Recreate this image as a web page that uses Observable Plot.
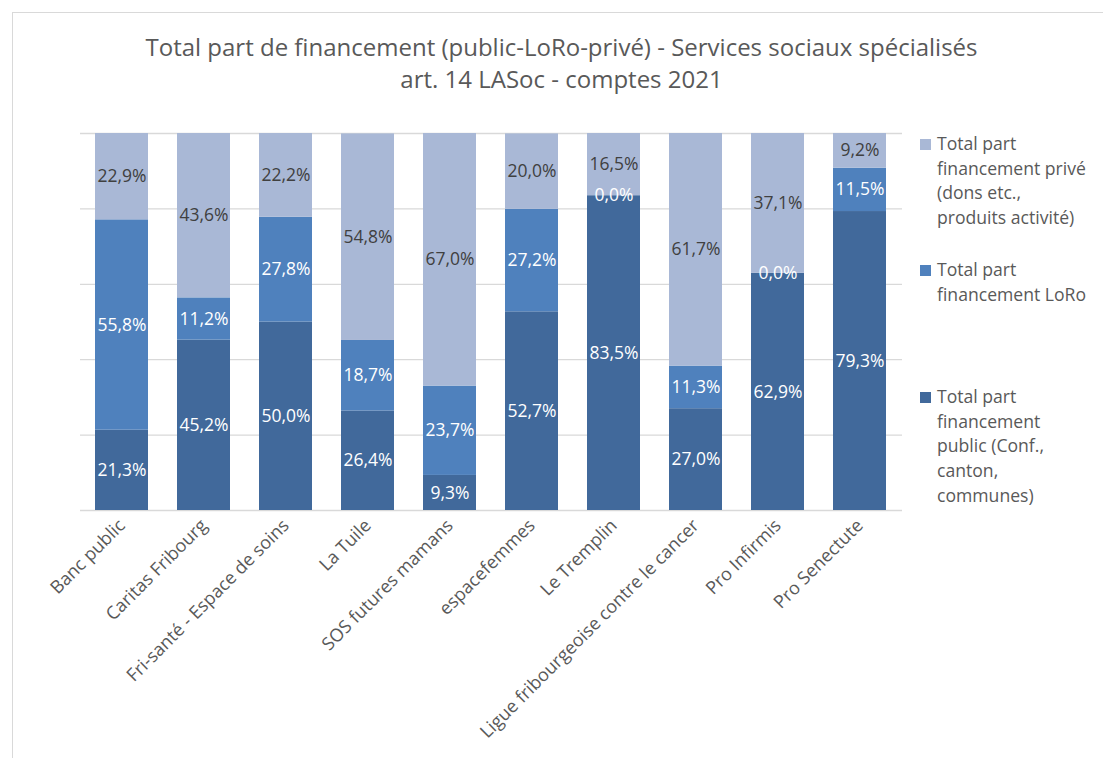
<!DOCTYPE html>
<html>
<head>
<meta charset="utf-8">
<script src="https://cdn.jsdelivr.net/npm/d3@7"></script>
<script src="https://cdn.jsdelivr.net/npm/@observablehq/plot@0.6"></script>
<style>
  html, body { margin: 0; padding: 0; background: #fff; }
  #wrap { position: relative; width: 1103px; height: 758px; overflow: hidden; font-family: "Open Sans", "Noto Sans", sans-serif; }
  #frame { position: absolute; left: 12px; top: 12px; width: 1200px; height: 800px; border-top: 1px solid #d9d9d9; border-left: 1px solid #d9d9d9; }
  #title { position: absolute; left: 0; top: 0; width: 1103px; height: 100px; text-align: center; color: #595959; font-size: 24px; line-height: 32px; padding-top: 31px; box-sizing: border-box; margin-left: 10px; }
  #chart { position: absolute; left: 0; top: 100px; }
  #legend { position: absolute; left: 918px; top: 131px; color: #595959; font-size: 17.6px; line-height: 24.7px; }
  .item { position: absolute; left: 0; width: 185px; }
  .sw { position: absolute; left: 2px; top: 8px; width: 11px; height: 11px; }
  .lt { position: absolute; left: 19px; top: 0; white-space: nowrap; }
</style>
</head>
<body>
<div id="wrap">
  <div id="frame"></div>
  <div id="title">Total part de financement (public-LoRo-privé) - Services sociaux spécialisés<br>art. 14 LASoc - comptes 2021</div>
  <div id="chart"></div>
  <div id="legend"></div>
</div>
<script>
const categories = ["Banc public", "Caritas Fribourg", "Fri-santé - Espace de soins", "La Tuile", "SOS futures mamans", "espacefemmes", "Le Tremplin", "Ligue fribourgeoise contre le cancer", "Pro Infirmis", "Pro Senectute"];
const seriesNames = ["Total part financement public (Conf., canton, communes)", "Total part financement LoRo", "Total part financement privé (dons etc., produits activité)"];
const publicValues = [21.3, 45.2, 50.0, 26.4, 9.3, 52.7, 83.5, 27.0, 62.9, 79.3];
const loroValues   = [55.8, 11.2, 27.8, 18.7, 23.7, 27.2, 0.0, 11.3, 0.0, 11.5];
const priveValues  = [22.9, 43.6, 22.2, 54.8, 67.0, 20.0, 16.5, 61.7, 37.1, 9.2];
const seriesColors = ["#41699b", "#4f81bd", "#a9b8d6"];
const labelColors = ["#ffffff", "#ffffff", "#404040"];
const gridTicks = [0, 20, 40, 60, 80, 100];

const allSeries = [publicValues, loroValues, priveValues];
const rows = [];
allSeries.forEach((vals, s) => {
  vals.forEach((v, i) => rows.push({category: categories[i], series: seriesNames[s], si: s, value: v}));
});
const fmt = v => v.toFixed(1).replace(".", ",") + "%";

const chart = Plot.plot({
  width: 1103,
  height: 658,
  marginTop: 33,
  marginBottom: 248,
  marginLeft: 80,
  marginRight: 201,
  style: {fontFamily: "'Open Sans', 'Noto Sans', sans-serif", fontSize: "15px", color: "#595959", background: "transparent"},
  x: {domain: categories, paddingInner: 0.35, paddingOuter: 0.175, label: null},
  y: {domain: [0, 100], axis: null},
  color: {domain: seriesNames, range: seriesColors},
  marks: [
    Plot.ruleY(gridTicks, {stroke: "#d9d9d9", strokeWidth: 1.3}),
    Plot.barY(rows, {x: "category", y: "value", fill: "series", order: seriesNames}),
    ...[0, 1, 2].map(s => Plot.text(rows, Plot.stackY({
      x: "category", y: "value", z: "series", order: seriesNames,
      text: d => d.si === s ? fmt(d.value) : "",
      fill: labelColors[s], fontSize: 17.5
    }))),
    Plot.axisX({tickRotate: -45, tickSize: 0, tickPadding: 12, fontSize: 18, fill: "#595959", label: null})
  ]
});
document.getElementById("chart").appendChild(chart);

const legendTops = [0, 126, 253];
const legendLines = [
  ["Total part", "financement privé", "(dons etc.,", "produits activité)"],
  ["Total part", "financement LoRo"],
  ["Total part", "financement", "public (Conf.,", "canton,", "communes)"]
];
const legendOrder = [2, 1, 0];
const legend = document.getElementById("legend");
legendOrder.forEach((s, k) => {
  const it = document.createElement("div");
  it.className = "item";
  it.style.top = legendTops[k] + "px";
  const sw = document.createElement("div");
  sw.className = "sw";
  sw.style.background = seriesColors[s];
  const lt = document.createElement("div");
  lt.className = "lt";
  lt.innerHTML = legendLines[k].join("<br>");
  it.appendChild(sw); it.appendChild(lt);
  legend.appendChild(it);
});
</script>
</body>
</html>
